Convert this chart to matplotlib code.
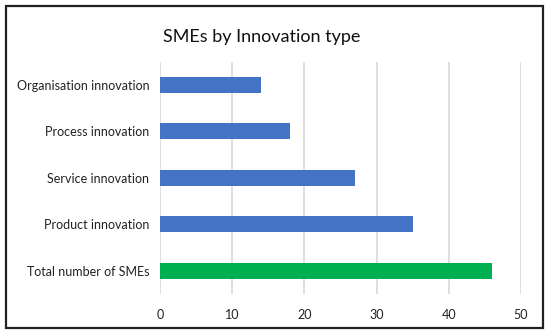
import matplotlib
matplotlib.use("Agg")
import matplotlib.pyplot as plt
from matplotlib.patches import Rectangle

categories = ["Total number of SMEs", "Product innovation", "Service innovation",
              "Process innovation", "Organisation innovation"]
values = [46, 35, 27, 18, 14]
colors = ["#00B050", "#4472C4", "#4472C4", "#4472C4", "#4472C4"]
xticks = [0, 10, 20, 30, 40, 50]
title = "SMEs by Innovation type"

plt.rcParams['font.family'] = ['Lato', 'DejaVu Sans']

fig = plt.figure(figsize=(5.5, 3.35), dpi=100)
W, H = 550, 335
ax = fig.add_axes([160.3 / W, 1 - 293.7 / H, (520.7 - 160.3) / W, (293.7 - 61.8) / H])

ypos = list(range(len(categories)))
ax.barh(ypos, values, height=0.345, color=colors, zorder=3)
ax.set_xlim(0, 50)
ax.set_ylim(-0.5, len(categories) - 0.5)
ax.set_xticks(xticks)
ax.set_xticklabels([str(t) for t in xticks])
ax.set_yticks(ypos)
ax.set_yticklabels(categories)
ax.tick_params(axis='both', length=0, labelsize=9.0, colors="#222222")
ax.tick_params(axis='x', pad=11)
ax.tick_params(axis='y', pad=8)
ax.grid(axis='x', color="#D9D9D9", linewidth=1.2, zorder=0)
for s in ax.spines.values():
    s.set_visible(False)

fig.text(262 / W, 1 - 37 / H, title, ha='center', va='center', fontsize=13, color="#111111")

fig.patches.append(Rectangle((6 / W, 1 - 328 / H), (543 - 6) / W, (328 - 6) / H,
                             transform=fig.transFigure, fill=False,
                             edgecolor="#222222", linewidth=1.6))

fig.savefig("out.png", dpi=100)
